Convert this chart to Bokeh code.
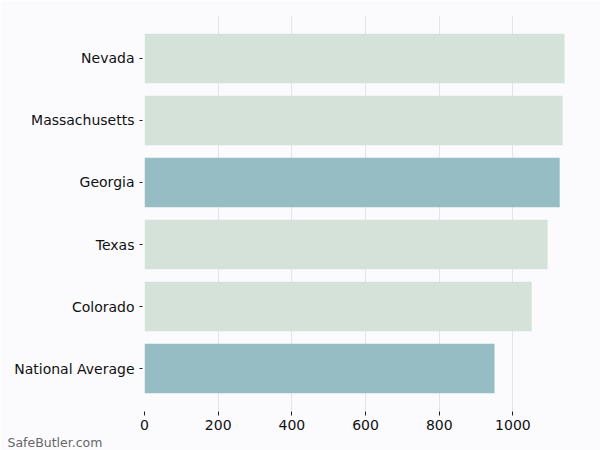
from bokeh.plotting import figure
from bokeh.models import FactorRange, Range1d, ColumnDataSource, Title, FixedTicker
from bokeh.embed import file_html
from bokeh.resources import INLINE

categories = ["Nevada", "Massachusetts", "Georgia", "Texas", "Colorado", "National Average"]
values = [1140, 1135, 1127, 1094, 1051, 950]
highlighted = ["Georgia", "National Average"]
x_ticks = [0, 200, 400, 600, 800, 1000]

LIGHT = "#d4e2d9"
DARK = "#96bcc4"
BG = "#fbfbfe"

colors = [DARK if c in highlighted else LIGHT for c in categories]
src = ColumnDataSource(dict(cat=categories, val=values, color=colors))

p = figure(
    width=600, height=450,
    y_range=FactorRange(factors=list(reversed(categories)), range_padding=0.0645),
    x_range=Range1d(0, max(values) * 1.05),
    output_backend="svg", toolbar_location=None,
    background_fill_color=BG, border_fill_color=BG,
    min_border_left=144, min_border_right=15, min_border_top=15, min_border_bottom=39,
)
p.outline_line_color = None

p.hbar(y="cat", right="val", left=0, height=0.8, fill_color="color", line_color=None, source=src)

p.xaxis.ticker = FixedTicker(ticks=x_ticks)
p.xgrid.ticker = FixedTicker(ticks=x_ticks)
p.ygrid.grid_line_color = None
p.xgrid.grid_line_color = "#e4e4e8"
p.xgrid.grid_line_width = 1

for ax in (p.xaxis, p.yaxis):
    ax.axis_line_color = None
    ax.minor_tick_line_color = None
    ax.major_tick_line_color = "#222222"
    ax.major_label_text_font = "DejaVu Sans"
    ax.major_label_text_font_size = "14px"
    ax.major_label_text_color = "#111111"

p.yaxis.major_tick_in = -2
p.yaxis.major_tick_out = 5
p.yaxis.major_label_standoff = 5
p.xaxis.major_tick_in = 0
p.xaxis.major_tick_out = 4
p.xaxis.major_label_standoff = 4

p.add_layout(Title(text="SafeButler.com", align="left", offset=-137, standoff=0,
                   text_font="DejaVu Sans", text_font_size="12.5px", text_font_style="normal",
                   text_color="#666666"), "below")

open("out.html", "w").write(file_html(p, INLINE))
